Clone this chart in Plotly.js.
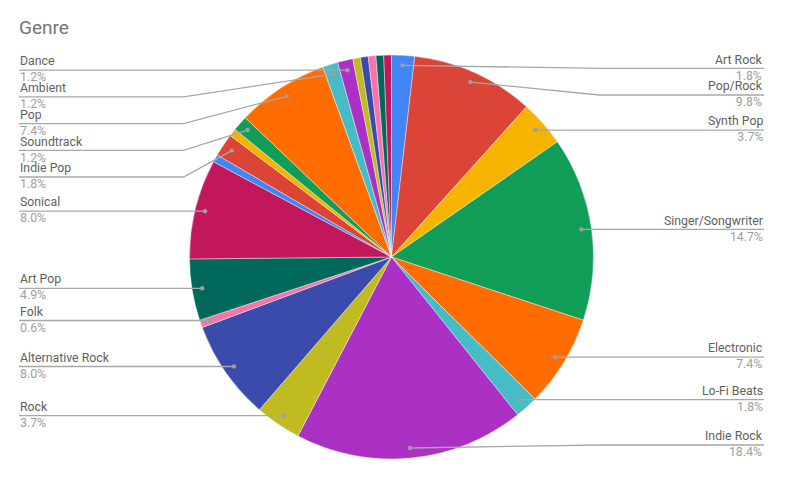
<!DOCTYPE html>
<html>
<head>
<meta charset="utf-8">
<script src="https://cdn.plot.ly/plotly-3.0.1.min.js"></script>
<style>html,body{margin:0;padding:0;background:#fff;}#chart{width:785px;height:478px;}</style>
</head>
<body>
<div id="chart"></div>
<script>
// ---- data (song counts per genre; total 163) ----
const genres = ["Art Rock","Pop/Rock","Synth Pop","Singer/Songwriter","Electronic","Lo-Fi Beats",
  "Indie Rock","Rock","Alternative Rock","Folk","Art Pop","Sonical",
  "(unlabeled 1)","Indie Pop","(unlabeled 2)","Soundtrack","Pop","Ambient","Dance",
  "(unlabeled 3)","(unlabeled 4)","(unlabeled 5)","(unlabeled 6)","(unlabeled 7)"];
const counts = [3,16,6,24,12,3,30,6,13,1,8,13,1,3,1,2,12,2,2,1,1,1,1,1];
const labelShown = [1,1,1,1,1,1,1,1,1,1,1,1,0,1,0,1,1,1,1,0,0,0,0,0];
const palette = ["#4285F4","#DB4437","#F4B400","#0F9D58","#FF6D00","#46BDC6",
  "#AB30C4","#C0BB21","#3B4BAB","#F774A8","#00695C","#C2185B"];

// ---- layout geometry (pixels) ----
const W = 785, H = 478;
const cx = 391.5, cy = 257, R = 202;
const dotR = 0.95 * R, elbowR = R + 6;
const leftX = 19, rightX = 764;
const minY = 68.3, maxY = 445, gap = 26.7;
const px = x => x / W, py = y => 1 - y / H;

const total = counts.reduce((a, b) => a + b, 0);
const colors = counts.map((_, i) => palette[i % palette.length]);

// slice mid angles (clockwise from 12 o'clock)
let cum = 0;
const items = [];
counts.forEach((c, i) => {
  const mid = (cum + c / 2) / total * 2 * Math.PI;
  cum += c;
  if (!labelShown[i]) return;
  const dx = cx + dotR * Math.sin(mid), dy = cy - dotR * Math.cos(mid);
  items.push({i, side: mid < Math.PI ? 'right' : 'left', dx, dy, want: dy,
    pct: (c / total * 100).toFixed(1) + '%'});
});

// resolve label positions per side
['left', 'right'].forEach(side => {
  const arr = items.filter(o => o.side === side).sort((a, b) => a.want - b.want);
  arr.forEach((o, k) => { o.ly = Math.max(o.want, minY, k ? arr[k-1].ly + gap : minY); });
  for (let k = arr.length - 1; k >= 0; k--) {
    arr[k].ly = Math.min(arr[k].ly, maxY, k < arr.length - 1 ? arr[k+1].ly - gap : maxY);
  }
});

const shapes = [], annotations = [];
items.forEach(o => {
  const ex = o.side === 'right' ? cx + elbowR : cx - elbowR;
  const sx = o.side === 'right' ? rightX : leftX;
  shapes.push({type: 'path', xref: 'paper', yref: 'paper', layer: 'above',
    path: `M${px(sx)},${py(o.ly)} L${px(ex)},${py(o.ly)} L${px(o.dx)},${py(o.dy)}`,
    line: {color: '#a8a8a8', width: 1.3}});
  const r = 2.2;
  shapes.push({type: 'circle', xref: 'paper', yref: 'paper', layer: 'above',
    x0: px(o.dx - r), x1: px(o.dx + r), y0: py(o.dy + r), y1: py(o.dy - r),
    fillcolor: '#9e9e9e', line: {width: 0}});
  const anchor = o.side === 'right' ? 'right' : 'left';
  annotations.push({xref: 'paper', yref: 'paper', x: px(sx), y: py(o.ly - 0.8),
    xanchor: anchor, yanchor: 'middle', align: anchor, showarrow: false, borderpad: 0,
    text: genres[o.i] + '<br><span style="color:#9e9e9e">' + o.pct + '</span>',
    font: {family: 'Roboto', size: 12.3, color: '#616161'}});
});

const trace = {
  type: 'pie', labels: genres, values: counts, sort: false,
  direction: 'clockwise', rotation: 0, textinfo: 'none', hoverinfo: 'label+percent',
  marker: {colors: colors, line: {color: '#ffffff', width: 0.4}},
  domain: {x: [px(cx - R), px(cx + R)], y: [py(cy + R), py(cy - R)]},
  showlegend: false
};

const layout = {
  width: W, height: H, margin: {l: 0, r: 0, t: 0, b: 0},
  paper_bgcolor: '#ffffff', plot_bgcolor: '#ffffff',
  font: {family: 'Roboto'},
  title: {text: 'Genre', x: px(19), xanchor: 'left', xref: 'paper',
    y: 1 - 27 / H, yanchor: 'middle', yref: 'container',
    font: {family: 'Roboto', size: 19, color: '#757575'}},
  shapes, annotations, showlegend: false
};

Plotly.newPlot('chart', [trace], layout, {displayModeBar: false, staticPlot: true});
</script>
</body>
</html>
